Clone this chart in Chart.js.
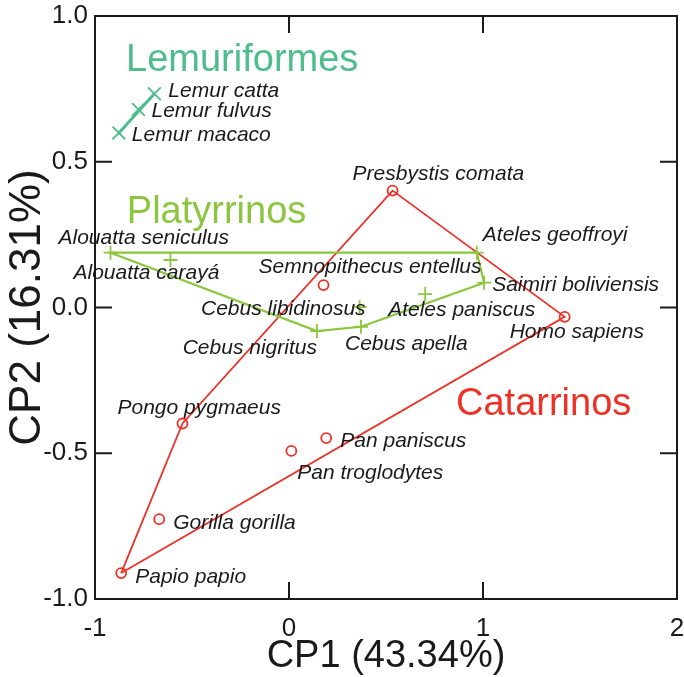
<!DOCTYPE html>
<html>
<head>
<meta charset="utf-8">
<style>
    html, body { margin: 0; padding: 0; background: #fff; overflow: hidden; }
    #wrap { width: 684px; height: 677px; }
</style>
</head>
<body>
<div id="wrap"><canvas id="pcaChart"></canvas></div>
<script src="https://cdn.jsdelivr.net/npm/chart.js"></script>
<script>
    // valores (CP1, CP2)
    const lemurNames = ['Lemur catta', 'Lemur fulvus', 'Lemur macaco'];
    const lemurCP1 = [-0.694, -0.776, -0.877];
    const lemurCP2 = [0.733, 0.679, 0.599];
    const lemurHull = [2, 0];

    const platyNames = ['Alouatta seniculus', 'Alouatta carayá', 'Ateles geoffroyi', 'Saimiri boliviensis',
        'Ateles paniscus', 'Cebus libidinosus', 'Cebus apella', 'Cebus nigritus'];
    const platyCP1 = [-0.920, -0.611, 0.968, 1.006, 0.702, 0.364, 0.371, 0.144];
    const platyCP2 = [0.188, 0.163, 0.188, 0.085, 0.046, 0.001, -0.066, -0.081];
    const platyHull = [0, 2, 3, 6, 7, 0];

    const catNames = ['Presbystis comata', 'Semnopithecus entellus', 'Homo sapiens', 'Pongo pygmaeus',
        'Gorilla gorilla', 'Papio papio', 'Pan paniscus', 'Pan troglodytes'];
    const catCP1 = [0.534, 0.178, 1.421, -0.549, -0.669, -0.865, 0.192, 0.012];
    const catCP2 = [0.401, 0.077, -0.032, -0.398, -0.726, -0.911, -0.448, -0.492];
    const catHull = [5, 3, 0, 2, 5];

    const xTicks = [-1, 0, 1, 2];
    const yTicks = [-1, -0.5, 0, 0.5, 1];

    const teal = '#4dbd8c';
    const green = '#8cc63f';
    const red = '#ec3127';
    const ink = '#1a1a1a';
    const family = '"Liberation Sans", Arial, sans-serif';

    const toPoints = (xs, ys) => xs.map((x, i) => ({ x: x, y: ys[i] }));
    const hullPoints = (xs, ys, idx) => idx.map(i => ({ x: xs[i], y: ys[i] }));
    const noPadding = () => ({ left: 0, top: 0, right: 0, bottom: 0 });

    // posicion de cada etiqueta respecto a su punto (px)
    const labelPos = {
        'Lemur catta': [14, -3], 'Lemur fulvus': [13, 2], 'Lemur macaco': [13, 2],
        'Alouatta seniculus': [-52, -15], 'Alouatta carayá': [-97, 13],
        'Ateles geoffroyi': [6, -18], 'Saimiri boliviensis': [8, 2],
        'Ateles paniscus': [-37, 16], 'Cebus libidinosus': [6, 2, 'right'],
        'Cebus apella': [-16, 17], 'Cebus nigritus': [0, 17, 'right'],
        'Presbystis comata': [-40, -16], 'Semnopithecus entellus': [-65, -18],
        'Homo sapiens': [-55, 15], 'Pongo pygmaeus': [-65, -15],
        'Gorilla gorilla': [14, 4], 'Papio papio': [14, 4],
        'Pan paniscus': [14, 3], 'Pan troglodytes': [6, 22]
    };

    const groupTitles = [
        { text: 'Lemuriformes', x: -0.84, y: 0.847, color: teal },
        { text: 'Platyrrinos', x: -0.836, y: 0.325, color: green },
        { text: 'Catarrinos', x: 0.861, y: -0.334, color: red }
    ];

    const labelsPlugin = {
        id: 'speciesLabels',
        afterDatasetsDraw(chart) {
            const c = chart.ctx;
            const xs = chart.scales.x, ys = chart.scales.y;
            c.save();
            c.textBaseline = 'middle';
            c.font = 'italic 21px ' + family;
            c.fillStyle = ink;
            chart.data.datasets.forEach((ds, di) => {
                if (!ds.names) return;
                chart.getDatasetMeta(di).data.forEach((el, i) => {
                    const name = ds.names[i];
                    const p = labelPos[name] || [10, 0];
                    c.textAlign = p[2] || 'left';
                    c.fillText(name, el.x + p[0], el.y + p[1]);
                });
            });
            c.font = '38px ' + family;
            c.textAlign = 'left';
            groupTitles.forEach(g => {
                c.fillStyle = g.color;
                c.fillText(g.text, xs.getPixelForValue(g.x), ys.getPixelForValue(g.y));
            });
            c.restore();
        }
    };

    const framePlugin = {
        id: 'frame',
        afterDraw(chart) {
            const c = chart.ctx;
            const a = chart.chartArea;
            const xs = chart.scales.x, ys = chart.scales.y;
            const len = 17;
            c.save();
            c.strokeStyle = ink;
            c.lineWidth = 2;
            c.strokeRect(a.left, a.top, a.right - a.left, a.bottom - a.top);
            c.beginPath();
            xTicks.slice(1, -1).forEach(v => {
                const px = xs.getPixelForValue(v);
                c.moveTo(px, a.bottom); c.lineTo(px, a.bottom - len);
                c.moveTo(px, a.top); c.lineTo(px, a.top + len);
            });
            yTicks.slice(1, -1).forEach(v => {
                const py = ys.getPixelForValue(v);
                c.moveTo(a.left, py); c.lineTo(a.left + len, py);
                c.moveTo(a.right, py); c.lineTo(a.right - len, py);
            });
            c.stroke();
            c.restore();
        }
    };

    const ctx = document.getElementById('pcaChart').getContext('2d');

    new Chart(ctx, {
        type: 'scatter',
        data: {
            datasets: [
                {
                    data: hullPoints(lemurCP1, lemurCP2, lemurHull),
                    showLine: true, pointRadius: 0, borderColor: teal, borderWidth: 3
                },
                {
                    names: lemurNames,
                    data: toPoints(lemurCP1, lemurCP2),
                    pointStyle: 'crossRot', pointRadius: 9, borderColor: teal, borderWidth: 1.8
                },
                {
                    data: hullPoints(platyCP1, platyCP2, platyHull),
                    showLine: true, pointRadius: 0, borderColor: green, borderWidth: 2.2
                },
                {
                    names: platyNames,
                    data: toPoints(platyCP1, platyCP2),
                    pointStyle: 'cross', pointRadius: 7, borderColor: green, borderWidth: 1.8
                },
                {
                    data: hullPoints(catCP1, catCP2, catHull),
                    showLine: true, pointRadius: 0, borderColor: red, borderWidth: 1.8
                },
                {
                    names: catNames,
                    data: toPoints(catCP1, catCP2),
                    pointStyle: 'circle', pointRadius: 5, borderColor: red, borderWidth: 1.8,
                    backgroundColor: 'rgba(0,0,0,0)'
                }
            ]
        },
        options: {
            responsive: true,
            maintainAspectRatio: false,
            animation: false,
            layout: { autoPadding: false, padding: { top: 16, right: 7, bottom: 0, left: 0 } },
            plugins: {
                legend: { display: false },
                tooltip: { enabled: false }
            },
            scales: {
                x: {
                    min: -1, max: 2,
                    afterBuildTicks: s => { s.ticks = xTicks.map(v => ({ value: v })); },
                    afterFit: s => { s.height = 78; s.getPadding = noPadding; },
                    grid: { display: false, drawTicks: false },
                    border: { display: false },
                    ticks: {
                        color: ink, padding: 14,
                        font: { family: family, size: 26 },
                        maxRotation: 0,
                        callback: v => String(v)
                    },
                    title: {
                        display: true, text: 'CP1 (43.34%)', color: ink,
                        font: { family: family, size: 38, lineHeight: 1.1 },
                        padding: { top: 0, bottom: 0 }
                    }
                },
                y: {
                    min: -1, max: 1,
                    afterBuildTicks: s => { s.ticks = yTicks.map(v => ({ value: v })); },
                    afterFit: s => { s.width = 95; s.getPadding = noPadding; },
                    grid: { display: false, drawTicks: false },
                    border: { display: false },
                    ticks: {
                        color: ink, padding: 7,
                        font: { family: family, size: 26 },
                        callback: v => v.toFixed(1)
                    },
                    title: {
                        display: true, text: 'CP2 (16.31%)', color: ink,
                        font: { family: family, size: 44, lineHeight: 1 },
                        padding: { top: 6, bottom: 0 }
                    }
                }
            }
        },
        plugins: [labelsPlugin, framePlugin]
    });
</script>
</body>
</html>
